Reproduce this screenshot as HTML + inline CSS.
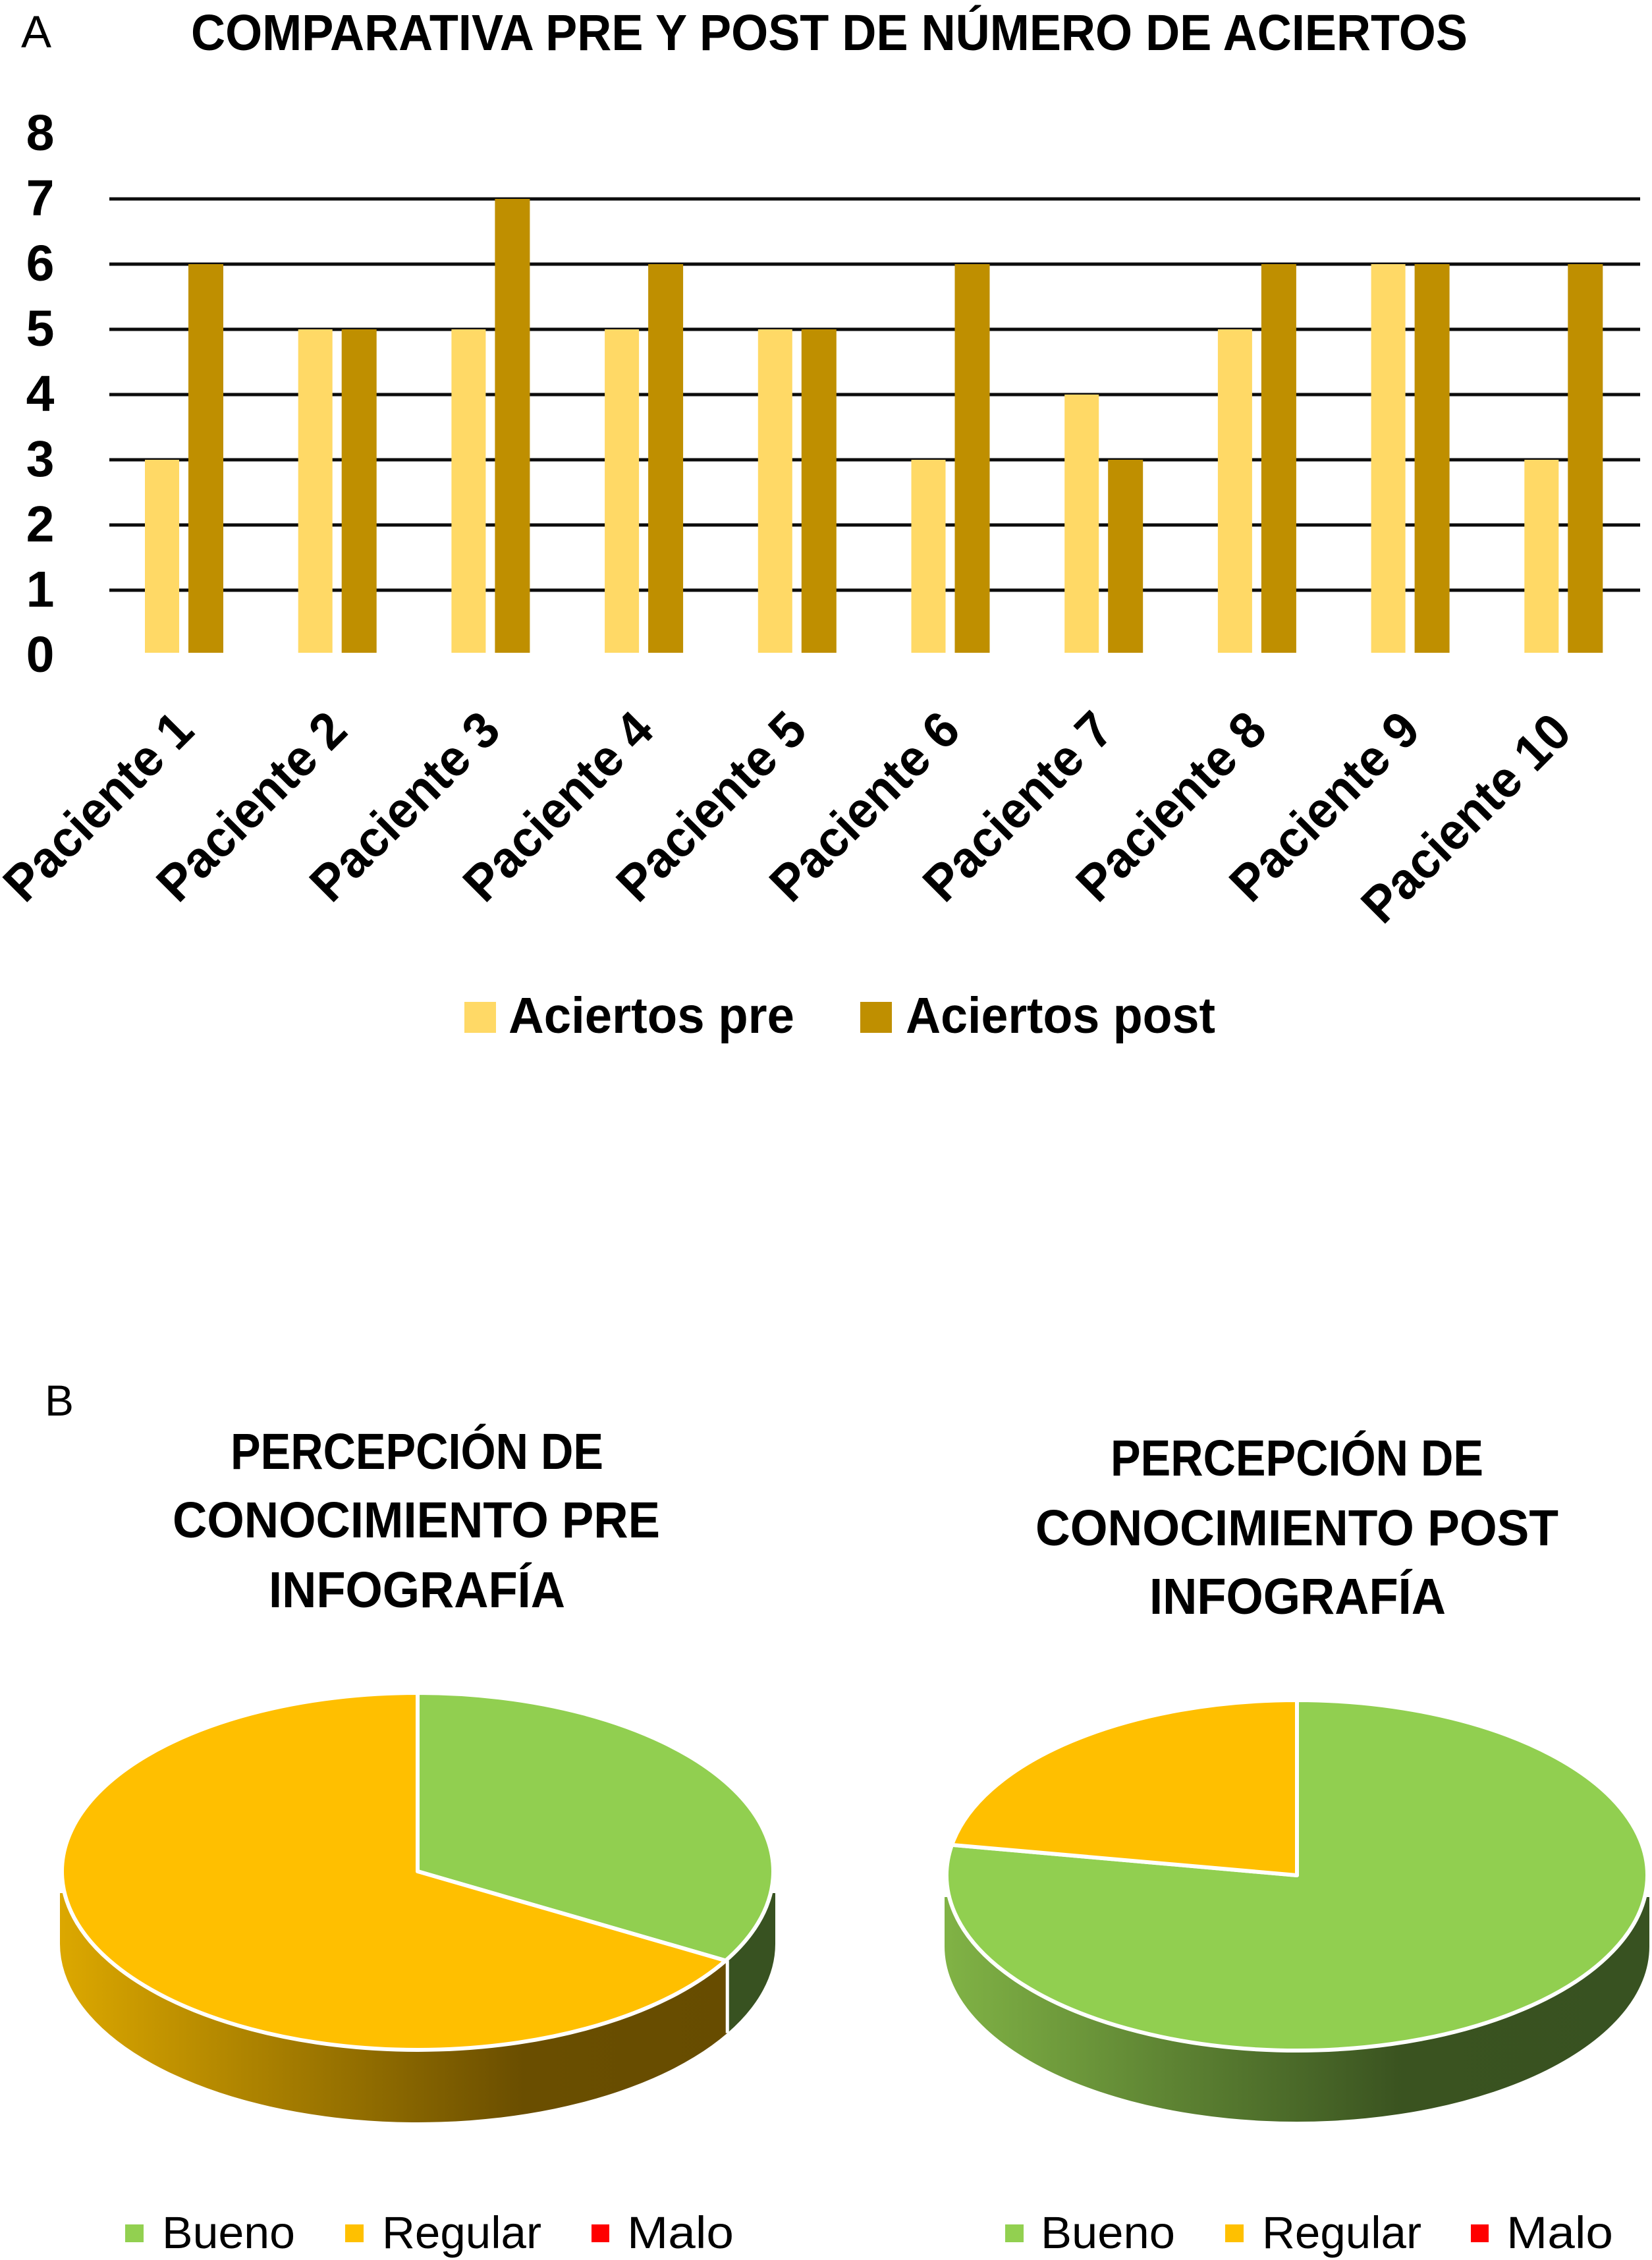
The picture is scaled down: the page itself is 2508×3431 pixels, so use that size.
<!DOCTYPE html>
<html lang="es">
<head>
<meta charset="utf-8">
<title>Comparativa pre y post</title>
<style>
html,body{margin:0;padding:0;background:#fff;}
svg{display:block;}
text{font-family:"Liberation Sans",Arial,sans-serif;fill:#000;}
.b{font-weight:700;font-size:77px;}
.r{font-weight:400;font-size:69px;}
</style>
</head>
<body>
<svg id="figure" xmlns="http://www.w3.org/2000/svg" width="2508" height="3431" viewBox="0 0 2508 3431">
  <defs>
    <linearGradient id="side-regular-pre" gradientUnits="userSpaceOnUse" x1="96" x2="1172" y1="0" y2="0"><stop offset="0" stop-color="#dba700"/><stop offset="0.65" stop-color="#6a4e00"/><stop offset="1" stop-color="#664c00"/></linearGradient>
    <linearGradient id="side-bueno-pre" gradientUnits="userSpaceOnUse" x1="96" x2="1172" y1="0" y2="0"><stop offset="0" stop-color="#80b245"/><stop offset="0.65" stop-color="#3a5320"/><stop offset="1" stop-color="#385221"/></linearGradient>
    <linearGradient id="side-regular-post" gradientUnits="userSpaceOnUse" x1="1440" x2="2500" y1="0" y2="0"><stop offset="0" stop-color="#dba700"/><stop offset="0.65" stop-color="#6a4e00"/><stop offset="1" stop-color="#664c00"/></linearGradient>
    <linearGradient id="side-bueno-post" gradientUnits="userSpaceOnUse" x1="1440" x2="2500" y1="0" y2="0"><stop offset="0" stop-color="#80b245"/><stop offset="0.65" stop-color="#3a5320"/><stop offset="1" stop-color="#385221"/></linearGradient>
    <clipPath id="clip-pre"><rect x="0" y="2874" width="1254" height="400"/></clipPath>
    <clipPath id="clip-post"><rect x="1254" y="2880" width="1254" height="400"/></clipPath>
  </defs>

  <text class="r" x="32" y="72" font-size="70">A</text>
  <text class="b" x="290" y="76" textLength="1938" lengthAdjust="spacingAndGlyphs">COMPARATIVA PRE Y POST DE NÚMERO DE ACIERTOS</text>

  <g id="grid"></g>
  <g id="yticks"></g>
  <g id="bars"></g>
  <g id="xticks"></g>

  <g>
    <rect x="705" y="1521" width="48" height="47" fill="#FFD966"/>
    <text class="b" x="772" y="1568" textLength="434" lengthAdjust="spacingAndGlyphs">Aciertos pre</text>
    <rect x="1306" y="1521" width="48" height="47" fill="#BF8F00"/>
    <text class="b" x="1375" y="1568" textLength="470" lengthAdjust="spacingAndGlyphs">Aciertos post</text>
  </g>

  <text class="r" x="68" y="2149" style="font-size:66px">B</text>

  <g>
    <text class="b" x="350" y="2230" textLength="566" lengthAdjust="spacingAndGlyphs">PERCEPCIÓN DE</text>
    <text class="b" x="262" y="2334" textLength="740" lengthAdjust="spacingAndGlyphs">CONOCIMIENTO PRE</text>
    <text class="b" x="408" y="2440" textLength="450" lengthAdjust="spacingAndGlyphs">INFOGRAFÍA</text>
  </g>
  <g>
    <text class="b" x="1686" y="2240" textLength="566" lengthAdjust="spacingAndGlyphs">PERCEPCIÓN DE</text>
    <text class="b" x="1572" y="2346" textLength="794" lengthAdjust="spacingAndGlyphs">CONOCIMIENTO POST</text>
    <text class="b" x="1745" y="2450" textLength="450" lengthAdjust="spacingAndGlyphs">INFOGRAFÍA</text>
  </g>

  <g id="pie-pre"></g>
  <g id="pie-post"></g>

  <g>
    <rect x="190" y="3377" width="28" height="27" fill="#92D050"/>
    <text class="r" x="246" y="3413" textLength="202" lengthAdjust="spacingAndGlyphs">Bueno</text>
    <rect x="524" y="3377" width="28" height="27" fill="#FFC000"/>
    <text class="r" x="580" y="3413" textLength="242" lengthAdjust="spacingAndGlyphs">Regular</text>
    <rect x="898" y="3377" width="27" height="27" fill="#FF0000"/>
    <text class="r" x="952" y="3413" textLength="162" lengthAdjust="spacingAndGlyphs">Malo</text>
  </g>
  <g>
    <rect x="1526" y="3377" width="28" height="27" fill="#92D050"/>
    <text class="r" x="1580" y="3413" textLength="204" lengthAdjust="spacingAndGlyphs">Bueno</text>
    <rect x="1860" y="3377" width="28" height="27" fill="#FFC000"/>
    <text class="r" x="1916" y="3413" textLength="242" lengthAdjust="spacingAndGlyphs">Regular</text>
    <rect x="2233" y="3377" width="27" height="27" fill="#FF0000"/>
    <text class="r" x="2287" y="3413" textLength="162" lengthAdjust="spacingAndGlyphs">Malo</text>
  </g>
</svg>

<script>
const categories = ["Paciente 1","Paciente 2","Paciente 3","Paciente 4","Paciente 5","Paciente 6","Paciente 7","Paciente 8","Paciente 9","Paciente 10"];
const aciertosPre = [3,5,5,5,5,3,4,5,6,3];
const aciertosPost = [6,5,7,6,5,6,3,6,6,6];
const yTickLabels = [0,1,2,3,4,5,6,7,8];
const gridValues = [1,2,3,4,5,6,7];
const pieCategories = ["Bueno","Regular","Malo"];
const piePreValues = [3,6,0];
const piePostValues = [7,2,0];

const NS = "http://www.w3.org/2000/svg";
function make(tag, parent, attrs) {
  const el = document.createElementNS(NS, tag);
  for (const k in attrs) el.setAttribute(k, attrs[k]);
  parent.appendChild(el);
  return el;
}
function yScale(v) { return 995 - 99 * v; }
function xScale(i) { return 220 + 232.7 * i; }
const barBase = 991;
const barWidth = 52;
const postOffset = 66;

const gridG = document.getElementById("grid");
gridValues.forEach(function (v) {
  const line = make("line", gridG, {x1:166, x2:2490, y1:yScale(v), y2:yScale(v), stroke:"#0c0c0c", "stroke-width":5});
  
  
});

const yG = document.getElementById("yticks");
yTickLabels.forEach(function (v) {
  const t = make("text", yG, {x:61, y:yScale(v) + 25, "text-anchor":"middle", class:"b"});
  
  
  t.textContent = v;
});

const barsG = document.getElementById("bars");
categories.forEach(function (c, i) {
  const a = make("rect", barsG, {x:xScale(i), y:yScale(aciertosPre[i]), width:barWidth, height:barBase - yScale(aciertosPre[i]), fill:"#FFD966"});
  
  
  const b = make("rect", barsG, {x:xScale(i) + postOffset, y:yScale(aciertosPost[i]), width:barWidth + 1, height:barBase - yScale(aciertosPost[i]), fill:"#BF8F00"});
  
  
});

const xG = document.getElementById("xticks");
categories.forEach(function (c, i) {
  const ex = 298 + 232.7 * i - (c.length > 10 ? 3 : 0);
  const ey = 1113 + (c.length > 10 ? 3 : 0);
  const t = make("text", xG, {
    transform:"translate(" + ex + " " + ey + ") rotate(-45)",
    x:0, y:0, "text-anchor":"end", class:"b",
    style:"font-size:78px",
    textLength: c.length > 10 ? 410 : 368,
    lengthAdjust:"spacingAndGlyphs"
  });
  
  
  t.textContent = c;
});

function drawPie(id, clip, cx, cy, rx, ry, depth, values, suffix) {
  const root = document.getElementById(id);
  const total = values.reduce(function (s, v) { return s + v; }, 0);
  const topColors = ["#91CF50","#FFBF00","#FF0000"];
  const sideIds = ["side-bueno-","side-regular-","side-regular-"];
  function pt(deg, rxx, yy) {
    const r = deg * Math.PI / 180;
    return [cx + rxx * Math.sin(r), yy - ry * Math.cos(r)];
  }
  const sideG = make("g", root, {"clip-path":"url(#" + clip + ")"});
  
  
  const srx = rx + 3;
  let a = 0;
  values.forEach(function (v, i) {
    const a2 = a + v / total * 360;
    const s = Math.max(a, 90), e = Math.min(a2, 270);
    if (v > 0 && e > s) {
      const p1 = pt(s, srx, cy), p2 = pt(e, srx, cy), p3 = pt(e, srx, cy + depth), p4 = pt(s, srx, cy + depth);
      const d = "M" + p1[0] + " " + p1[1] + " A" + srx + " " + ry + " 0 0 1 " + p2[0] + " " + p2[1] +
        " L" + p3[0] + " " + p3[1] + " A" + srx + " " + ry + " 0 0 0 " + p4[0] + " " + p4[1] + " Z";
      const side = make("path", sideG, {d:d, fill:"url(#" + sideIds[i] + suffix + ")"});
      
      
    }
    a = a2;
  });
  a = 0;
  values.forEach(function (v) {
    const a2 = a + v / total * 360;
    if (v > 0 && a2 > 90 && a2 < 270) {
      const p1 = pt(a2, srx, cy), p2 = pt(a2, srx, cy + depth);
      const sep = make("line", sideG, {x1:p1[0], y1:p1[1], x2:p2[0], y2:p2[1], stroke:"#fff", "stroke-width":5});
      
      
    }
    a = a2;
  });
  a = 0;
  values.forEach(function (v, i) {
    const a2 = a + v / total * 360;
    if (v > 0) {
      const p1 = pt(a, rx, cy), p2 = pt(a2, rx, cy);
      const large = a2 - a > 180 ? 1 : 0;
      const d = "M" + cx + " " + cy + " L" + p1[0] + " " + p1[1] + " A" + rx + " " + ry + " 0 " + large + " 1 " + p2[0] + " " + p2[1] + " Z";
      const slice = make("path", root, {d:d, fill:topColors[i], stroke:"#fff", "stroke-width":6, "stroke-linejoin":"round"});
      
      
    }
    a = a2;
  });
}
drawPie("pie-pre", "clip-pre", 634, 2841, 540, 271, 110, piePreValues, "pre");
drawPie("pie-post", "clip-post", 1969, 2847, 532, 266, 108, piePostValues, "post");
</script>
</body>
</html>
